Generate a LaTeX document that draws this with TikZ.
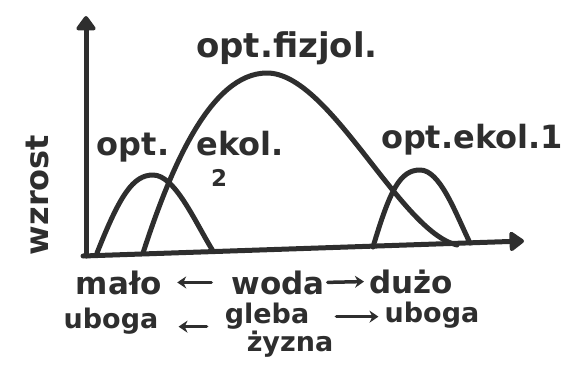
\documentclass[tikz,border=0pt]{standalone}
\usepackage{fontspec}
\setmainfont{DejaVu Sans}
\usetikzlibrary{arrows.meta,positioning}
\definecolor{ink}{HTML}{2E2E2E}

\begin{document}
\begin{tikzpicture}[x=1pt, y=-1pt,
  curve/.style={draw=ink, line width=5pt, line cap=round, line join=round},
  axis/.style={curve, -{Triangle[length=16pt,width=22pt,round]}},
  label/.style={text=ink, font=\fontsize{32}{34}\bfseries\selectfont,
    inner sep=0pt, anchor=base},
  row/.style={label, font=\fontsize{31}{33}\bfseries\selectfont},
  lower/.style={label, font=\fontsize{27}{29}\bfseries\selectfont},
  pointer/.style={draw=ink, line width=3.5pt, line cap=round,
    -{Stealth[length=9pt,width=12pt]}}
]
\useasboundingbox (0,0) rectangle (567,372);

% axes
\coordinate (origin) at (86,256);
\coordinate (ytip) at (86,16);
\coordinate (xtip) at (524,241);
\draw[axis] (origin) -- (ytip);
\draw[axis] ([xshift=-3pt]origin) -- (xtip);

% optimum curves
\draw[curve] (97,253) .. controls (120,195) and (133,175) .. (153,175)
  .. controls (175,175) and (195,222) .. (213,251);
\draw[curve] (143,253) .. controls (170,170) and (210,73) .. (267,73)
  .. controls (330,73) and (400,232) .. (457,245);
\draw[curve] (373,247) .. controls (390,190) and (400,170) .. (420,170)
  .. controls (440,170) and (455,212) .. (470,243);

% curve labels
\node[label, font=\fontsize{34}{36}\bfseries\selectfont] (fizjol) at (287,57) {opt.fizjol.};
\node[label] (opt2) at (133,155) {opt.};
\node[label] (ekol2) at (240,155) {ekol.};
\node[label, font=\fontsize{23}{25}\bfseries\selectfont] (two) at (219,186) {2};
\node[label] (ekol1) at (472,148) {opt.ekol.1};
\node[label, rotate=90, anchor=center] (wzrost) at (37,195) {wzrost};

% gradients under the axis
\node[row] (malo) at (119,294) {mało};
\node[row] (woda) at (278,294) {woda};
\node[row] (duzo) at (411,293) {dużo};
\node[lower] (uboga1) at (111,328) {uboga};
\node[lower] (gleba) at (267,323) {gleba};
\node[lower] (zyzna) at (290,351) {żyzna};
\node[lower] (uboga2) at (432,322) {uboga};

\draw[pointer, shorten <=20pt, shorten >=15pt] (woda.west) -- (malo.east);
\draw[pointer, shorten <=3pt, shorten >=5pt] (woda.east) -- (duzo.west);
\draw[pointer, shorten <=18pt, shorten >=20pt]
  ([yshift=-6pt]gleba.west |- uboga1.east) -- ([yshift=-6pt]uboga1.east);
\draw[pointer, shorten <=3pt, shorten >=6pt]
  ([yshift=-2pt]zyzna.east |- uboga2.west) -- ([yshift=-2pt]uboga2.west);
\end{tikzpicture}
\end{document}
